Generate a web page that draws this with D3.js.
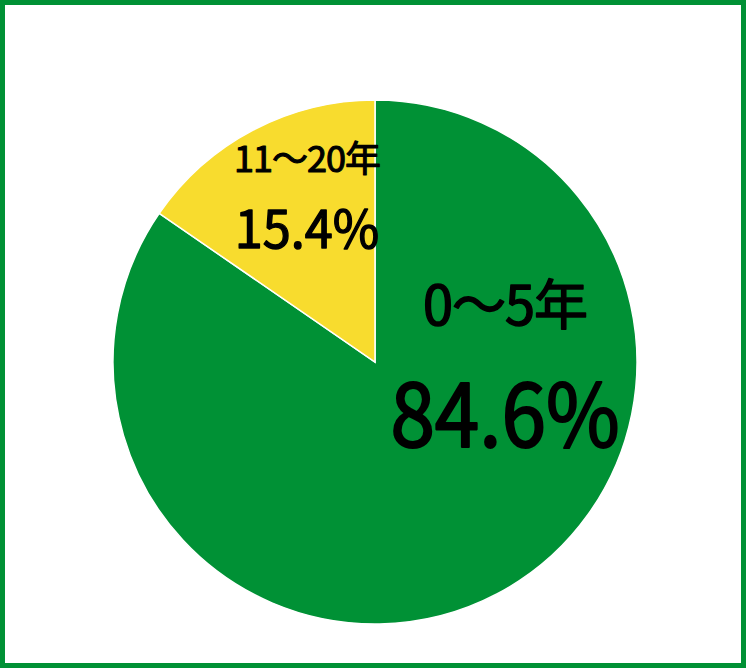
<!DOCTYPE html>
<html lang="ja">
<head>
<meta charset="utf-8">
<title>Pie</title>
<script src="https://d3js.org/d3.v7.min.js"></script>
<style>
  html, body { margin: 0; padding: 0; background: #fff; }
  svg { display: block; }
</style>
</head>
<body>
<script>
// data
const categories = ["0～5年", "11～20年"];
const values = [84.6, 15.4];
const colors = ["#009135", "#F8DC2E"];

const w = 746, h = 668;
const cx = 375, cy = 362, r = 262;

// label layout (offsets from pie centre)
const labelLayout = [
  { dx: 130, nameY: -37, nameSize: 54, nameStroke: 1.5, pctY: 85, pctSize: 87, pctStroke: 2.2, pctScale: 0.92 },
  { dx: -68, nameY: -190, nameSize: 36, nameStroke: 1.1, pctY: -114, pctSize: 52, pctStroke: 1.4, pctScale: 0.97 }
];

const svg = d3.select("body").append("svg")
  .attr("width", w)
  .attr("height", h);

// outer border
svg.append("rect")
  .attr("x", 2.5).attr("y", 2.5)
  .attr("width", w - 5).attr("height", h - 5)
  .attr("fill", "#fff")
  .attr("stroke", "#009135")
  .attr("stroke-width", 5);

const pie = d3.pie().sort(null).value(d => d.value);
const arc = d3.arc().innerRadius(0).outerRadius(r);

const data = categories.map((c, i) => ({ name: c, value: values[i], color: colors[i] }));

const g = svg.append("g").attr("transform", `translate(${cx},${cy})`);

g.selectAll("path")
  .data(pie(data))
  .enter()
  .append("path")
  .attr("d", arc)
  .attr("fill", d => d.data.color)
  .attr("stroke", "#fff")
  .attr("stroke-width", 1.5);

const fmt = d => d3.format(".1f")(d) + "%";

const labels = g.selectAll("g.lbl")
  .data(data)
  .enter()
  .append("g")
  .attr("class", "lbl")
  .attr("font-family", "'Noto Sans CJK JP', 'Noto Sans', sans-serif")
  .attr("text-anchor", "middle")
  .attr("fill", "#000")
  .attr("stroke", "#000")
  .attr("stroke-linejoin", "round");

labels.append("text")
  .attr("x", (d, i) => labelLayout[i].dx)
  .attr("y", (d, i) => labelLayout[i].nameY)
  .attr("font-size", (d, i) => labelLayout[i].nameSize + "px")
  .attr("stroke-width", (d, i) => labelLayout[i].nameStroke)
  .attr("letter-spacing", "-1px")
  .text(d => d.name);

labels.append("text")
  .attr("x", (d, i) => labelLayout[i].dx)
  .attr("y", (d, i) => labelLayout[i].pctY)
  .attr("font-size", (d, i) => labelLayout[i].pctSize + "px")
  .attr("stroke-width", (d, i) => labelLayout[i].pctStroke)
  .attr("transform", (d, i) => {
    const L = labelLayout[i];
    return `translate(${L.dx},0) scale(${L.pctScale},1) translate(${-L.dx},0)`;
  })
  .text(d => fmt(d.value));
</script>
</body>
</html>
